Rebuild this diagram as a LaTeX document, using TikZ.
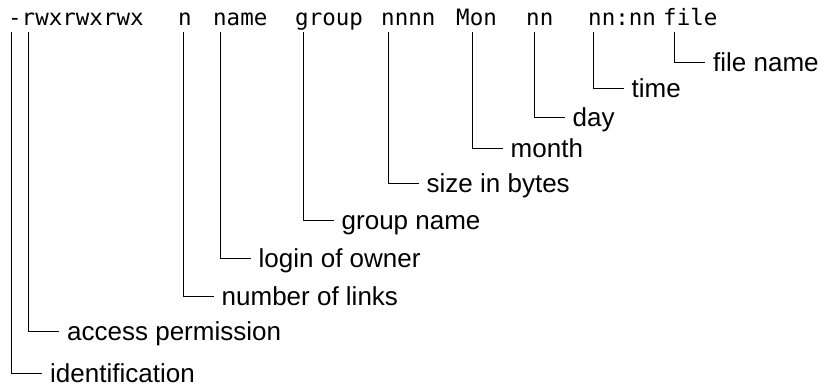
\documentclass[tikz,border=0pt]{standalone}
\usepackage{fontspec}
\setmainfont{Liberation Sans}
\newfontfamily\monofont{DejaVu Sans Mono}
\tikzset{
  word/.style={font=\monofont\fontsize{22.5}{27}\selectfont, anchor=base west, inner sep=0pt},
  lbl/.style={font=\fontsize{26}{31}\selectfont, anchor=west, inner xsep=8.5pt, inner ysep=0pt, text height=19pt, text depth=0pt},
  conn/.style={line width=1pt, line cap=rect}
}
\begin{document}
\begin{tikzpicture}[x=1pt,y=-1pt]
\useasboundingbox (0,0) rectangle (826,389);
% top line
\node[word] (w1) at (8,25) {-rwxrwxrwx};
\node[word] (w2) at (178,25) {n};
\node[word] (w3) at (213,25) {name};
\node[word] (w4) at (295,25) {group};
\node[word] (w5) at (381,25) {nnnn};
\node[word] (w6) at (456,25) {Mon};
\node[word] (w7) at (526,25) {nn};
\node[word] (w8) at (588,25) {nn:nn};
\node[word] (w9) at (663,25) {file};
% line tops
\coordinate (t1) at (11.5,32);
\coordinate (t2) at (28.5,32);
\coordinate (t3) at (183,32);
\coordinate (t4) at (220,32);
\coordinate (t5) at (303,32);
\coordinate (t6) at (388,32);
\coordinate (t7) at (472,32);
\coordinate (t8) at (534,32);
\coordinate (t9) at (593,32);
\coordinate (t10) at (674.5,32);
% labels
\node[lbl] (l1) at (41.5,373) {identification};
\node[lbl] (l2) at (58.5,331) {access permission};
\node[lbl] (l3) at (213,296) {number of links};
\node[lbl] (l4) at (250,258) {login of owner};
\node[lbl] (l5) at (333,220) {group name};
\node[lbl] (l6) at (418,183) {size in bytes};
\node[lbl] (l7) at (502,148) {month};
\node[lbl] (l8) at (564,117) {day};
\node[lbl] (l9) at (623,88) {time};
\node[lbl] (l10) at (704.5,62) {file name};
% connectors
\foreach \i in {1,...,10} {
  \draw[conn] (t\i) |- (l\i.west);
}
\end{tikzpicture}
\end{document}
